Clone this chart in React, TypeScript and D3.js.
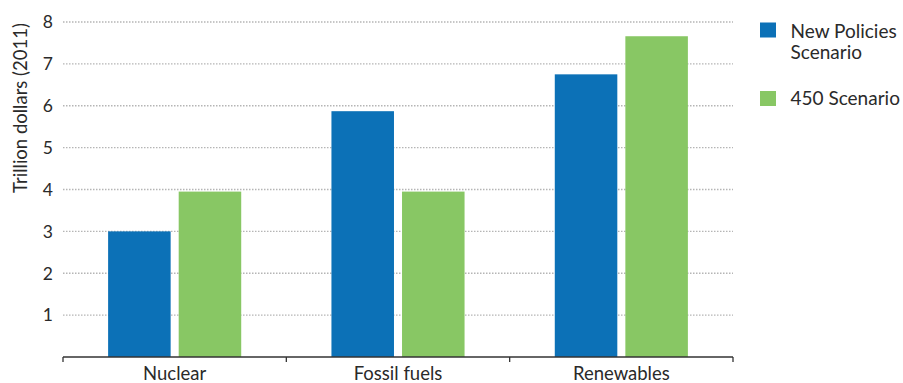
import React from "react";
import * as d3 from "d3";

const categories = ["Nuclear", "Fossil fuels", "Renewables"];
const seriesNames = ["New Policies Scenario", "450 Scenario"];
const newPolicies = [3.0, 5.87, 6.75];
const scenario450 = [3.95, 3.95, 7.66];
const yTicks = [1, 2, 3, 4, 5, 6, 7, 8];
const colors = ["#0c71b7", "#88c764"];

const W = 903;
const H = 383;
const left = 63;
const right = 733;
const top = 22;
const bottom = 357;
const font = "Lato, 'Open Sans', sans-serif";
const textColor = "#2a2a2a";

export default function App() {
  const x0 = d3.scaleBand<string>().domain(categories).range([left, right]).paddingInner(0.404).paddingOuter(0.202);
  const x1 = d3.scaleBand<string>().domain(seriesNames).range([0, x0.bandwidth()]).paddingInner(0.114).paddingOuter(0);
  const y = d3.scaleLinear().domain([0, 8]).range([bottom, top]);
  const values = [newPolicies, scenario450];
  const step = x0.step();
  const boundaries = d3.range(categories.length + 1).map((i) => left + i * step);

  return (
    <svg width={W} height={H} style={{ position: "absolute", left: 0, top: 0 }}>
      {yTicks.map((t) => (
        <g key={t}>
          <line x1={left} x2={right} y1={y(t)} y2={y(t)} stroke="#b5b5b5" strokeWidth={1.3} strokeDasharray="1.5,1.5" />
          <text x={53} y={y(t)} dy="0.36em" textAnchor="end" fontFamily={font} fontSize={17.5} fill={textColor}>{t}</text>
        </g>
      ))}
      {categories.map((c, i) => (
        <g key={c}>
          {seriesNames.map((s, j) => (
            <rect key={s} x={(x0(c) as number) + (x1(s) as number)} y={y(values[j][i])} width={x1.bandwidth()} height={y(0) - y(values[j][i])} fill={colors[j]} />
          ))}
          <text x={(x0(c) as number) + x0.bandwidth() / 2} y={380} textAnchor="middle" fontFamily={font} fontSize={18.5} fill={textColor}>{c}</text>
        </g>
      ))}
      <line x1={left} x2={right} y1={bottom} y2={bottom} stroke="#333" strokeWidth={1.3} />
      {boundaries.map((b, i) => (
        <line key={i} x1={b} x2={b} y1={bottom} y2={bottom + 5} stroke="#333" strokeWidth={1.3} />
      ))}
      <text transform="translate(27,108) rotate(-90)" textAnchor="middle" fontFamily={font} fontSize={18.5} fill={textColor}>Trillion dollars (2011)</text>
      <rect x={760} y={22.5} width={16} height={15} fill={colors[0]} />
      <text x={790.5} y={37.7} fontFamily={font} fontSize={19} fill={textColor}>New Policies</text>
      <text x={790.5} y={59.3} fontFamily={font} fontSize={19} fill={textColor}>Scenario</text>
      <rect x={760} y={91} width={16} height={15} fill={colors[1]} />
      <text x={790.5} y={105} fontFamily={font} fontSize={19} fill={textColor}>450 Scenario</text>
    </svg>
  );
}
